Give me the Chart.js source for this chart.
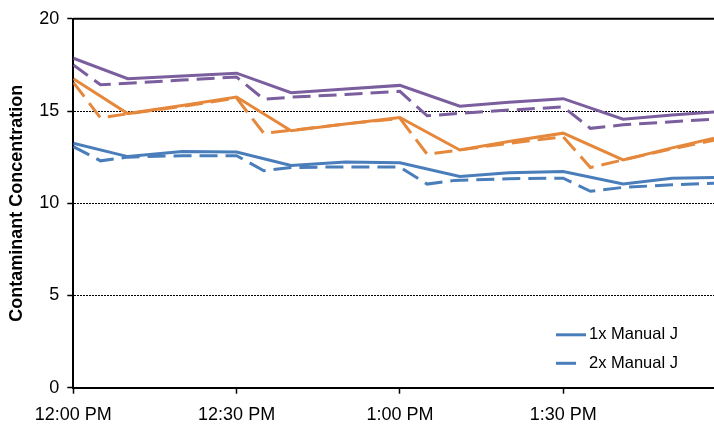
<!DOCTYPE html>
<html>
<head>
<meta charset="utf-8">
<script src="https://cdn.jsdelivr.net/npm/chart.js@4"></script>
<style>
  body { margin: 0; background: #fff; }
  #wrap { width: 714px; height: 427px; }
</style>
</head>
<body>
<div id="wrap"><canvas id="conc-chart"></canvas></div>
<script>
// minutes after 12:00 PM
const solidTimes  = [0, 10, 20, 30, 40, 50, 60, 71, 80, 90, 101, 110, 117.7];
const dashedTimes = [0, 5, 10, 20, 30, 35, 40, 50, 60, 65, 70, 80, 90, 95, 101, 110, 117.7];

const blue1x   = [13.25, 12.53, 12.8, 12.78, 12.05, 12.23, 12.2, 11.45, 11.65, 11.72, 11.04, 11.36, 11.4];
const blue2x   = [13.07, 12.3, 12.5, 12.58, 12.58, 11.76, 11.94, 11.97, 11.96, 11.04, 11.24, 11.33, 11.36, 10.65, 10.86, 11.0, 11.09];
const orange1x = [16.75, 14.86, 15.3, 15.76, 13.93, 14.3, 14.65, 12.89, 13.35, 13.8, 12.35, 13.0, 13.52];
const orange2x = [16.55, 14.63, 14.85, 15.25, 15.7, 13.79, 13.95, 14.3, 14.6, 12.66, 12.85, 13.25, 13.6, 11.94, 12.35, 12.95, 13.42];
const purple1x = [17.86, 16.75, 16.9, 17.05, 15.99, 16.2, 16.39, 15.26, 15.47, 15.67, 14.56, 14.78, 14.95];
const purple2x = [17.5, 16.42, 16.5, 16.68, 16.84, 15.64, 15.75, 15.9, 16.07, 14.74, 14.85, 15.05, 15.22, 14.06, 14.25, 14.42, 14.56];

const xTicks = [0, 30, 60, 90];
const xTickLabels = ['12:00 PM', '12:30 PM', '1:00 PM', '1:30 PM'];

const BLUE = '#4a7ebb', ORANGE = '#e6883c', PURPLE = '#7b5e9e';
const DASH = [18, 8];
const FONT = "'Liberation Sans', Arial, sans-serif";

function pts(times, vals) {
  return times.map((t, i) => ({ x: t, y: vals[i] }));
}

function line(label, times, vals, color, dashed) {
  return {
    label: label,
    data: pts(times, vals),
    borderColor: color,
    borderWidth: 3,
    borderDash: dashed ? DASH : [],
    pointRadius: 0,
    tension: 0,
    fill: false
  };
}

// solid black line along the top of the plot
const topLine = {
  id: 'topLine',
  beforeDatasetsDraw(chart) {
    const { ctx, chartArea: a } = chart;
    ctx.save();
    ctx.strokeStyle = '#000';
    ctx.lineWidth = 2;
    ctx.beginPath();
    ctx.moveTo(a.left, a.top);
    ctx.lineTo(a.right, a.top);
    ctx.stroke();
    ctx.restore();
  }
};

// legend inside the plot, only the two blue series
const innerLegend = {
  id: 'innerLegend',
  afterDraw(chart) {
    const { ctx, chartArea: a } = chart;
    const x0 = a.right - 158;
    const rows = [
      { ds: chart.data.datasets[0], y: a.top + 316, len: 30 },
      { ds: chart.data.datasets[1], y: a.top + 344.5, len: 20 }
    ];
    ctx.save();
    ctx.font = '16.5px ' + FONT;
    ctx.textBaseline = 'middle';
    ctx.fillStyle = '#000';
    rows.forEach(r => {
      ctx.strokeStyle = r.ds.borderColor;
      ctx.lineWidth = 3;
      ctx.beginPath();
      ctx.moveTo(x0, r.y);
      ctx.lineTo(x0 + r.len, r.y);
      ctx.stroke();
      ctx.fillText(r.ds.label, x0 + 33, r.y);
    });
    ctx.restore();
  }
};

const ctx = document.getElementById('conc-chart').getContext('2d');

let concChart = new Chart(ctx, {
  type: 'line',
  data: {
    datasets: [
      line('1x Manual J', solidTimes, blue1x, BLUE, false),
      line('2x Manual J', dashedTimes, blue2x, BLUE, true),
      line('Series 3', solidTimes, orange1x, ORANGE, false),
      line('Series 4', dashedTimes, orange2x, ORANGE, true),
      line('Series 5', solidTimes, purple1x, PURPLE, false),
      line('Series 6', dashedTimes, purple2x, PURPLE, true)
    ]
  },
  options: {
    responsive: true,
    maintainAspectRatio: false,
    animation: false,
    layout: { padding: { top: 16.3, right: 0, left: 0, bottom: 0 } },
    plugins: {
      legend: { display: false },
      tooltip: { enabled: false }
    },
    scales: {
      x: {
        type: 'linear',
        min: 0,
        max: 117.7,
        afterBuildTicks: s => { s.ticks = xTicks.map(v => ({ value: v })); },
        afterFit: s => { s.height = 39.3; },
        grid: { drawOnChartArea: false, drawTicks: true, tickLength: 6, tickColor: '#000', tickWidth: 1.5 },
        border: { color: '#000', width: 2 },
        ticks: {
          color: '#000',
          padding: 11,
          maxRotation: 0,
          font: { family: FONT, size: 18 },
          callback: v => xTickLabels[xTicks.indexOf(v)]
        }
      },
      y: {
        min: 0,
        max: 20,
        afterFit: s => { s.width = 73.3; },
        grid: {
          color: '#000',
          lineWidth: 1,
          drawTicks: true,
          tickLength: 6,
          tickColor: '#000',
          tickWidth: 1.5
        },
        border: { color: '#000', width: 2, dash: [2, 1] },
        ticks: {
          stepSize: 5,
          color: '#000',
          padding: 8,
          font: { family: FONT, size: 18 }
        },
        title: {
          display: true,
          text: 'Contaminant Concentration',
          color: '#000',
          padding: { top: 6, bottom: 0 },
          font: { family: FONT, size: 18, weight: 'bold' }
        }
      }
    }
  },
  plugins: [topLine, innerLegend]
});
</script>
</body>
</html>
